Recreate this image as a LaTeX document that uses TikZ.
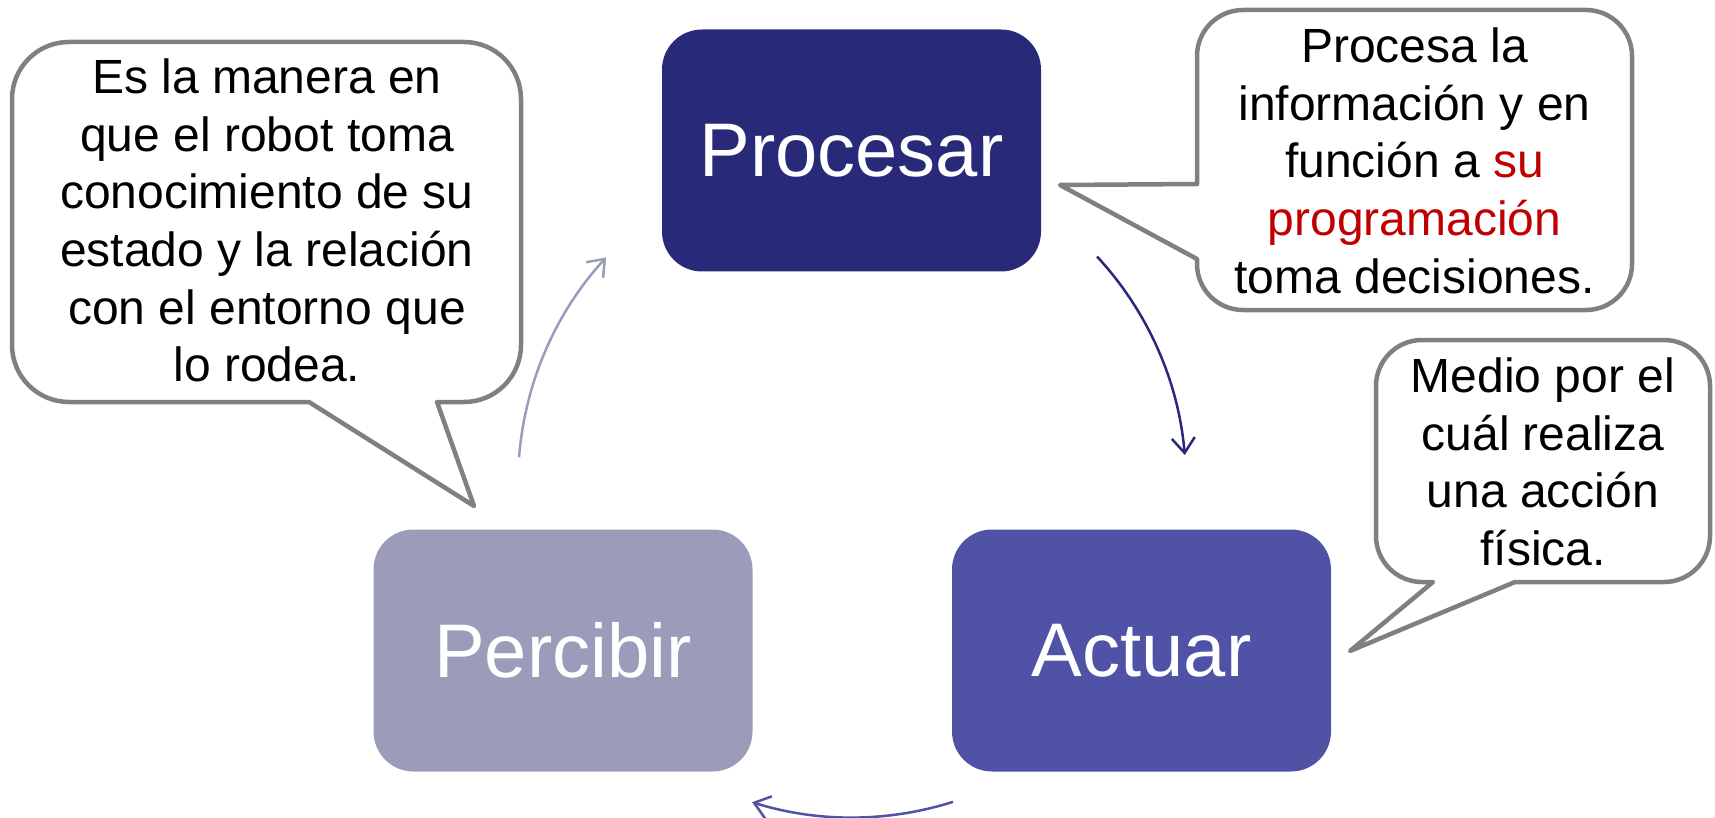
\documentclass[tikz,border=0pt]{standalone}
\usepackage{fontspec}
\setmainfont{Liberation Sans}
\usetikzlibrary{arrows.meta,calc}
\definecolor{procc}{HTML}{29297A}
\definecolor{actc}{HTML}{5052A6}
\definecolor{perc}{HTML}{9A9CBA}
\definecolor{bubline}{HTML}{808080}
\definecolor{hl}{HTML}{C00000}
\begin{document}
\begin{tikzpicture}[x=1pt,y=-1pt,
  stage/.style={rounded corners=40pt, minimum width=379pt, minimum height=242pt,
    inner sep=0pt, text=white, font=\fontsize{76}{90}\selectfont},
  bubble/.style={draw=bubline, line width=4.5pt, fill=white, line join=round},
  bubtext/.style={align=center, inner sep=0pt, anchor=north,
    font=\fontsize{48}{57.7}\selectfont},
  cyc/.style={line width=2.5pt, -{Straight Barb[length=15pt,width=23pt]}},
]
\useasboundingbox (0,0) rectangle (1715,818);

% the three stages of the cycle
\node[stage, fill=procc] (proc) at (851.5,150.5) {Procesar};
\node[stage, fill=actc]  (act)  at (1141.5,650.5) {Actuar};
\node[stage, fill=perc]  (perc) at (563,650.5) {Percibir};

% curved arrows on a common circle
\coordinate (cc) at (852,483.5);
\coordinate (a1) at ($(cc)+(-42.8:334)$);
\coordinate (a3) at ($(cc)+(72.4:334)$);
\coordinate (a5) at ($(cc)+(184.5:334)$);
\draw[cyc, draw=procc] (a1) arc[start angle=-42.8, end angle=-4.9, radius=334];
\draw[cyc, draw=actc]  (a3) arc[start angle=72.4, end angle=107.4, radius=334];
\draw[cyc, draw=perc]  (a5) arc[start angle=184.5, end angle=222.6, radius=334];

% speech bubbles
\draw[bubble] (69,42) -- (464,42) arc[start angle=-90,end angle=0,radius=57]
  -- (521,345) arc[start angle=0,end angle=90,radius=57]
  -- (437,402) -- (474,506) -- (309,402)
  -- (69,402) arc[start angle=90,end angle=180,radius=57]
  -- (12,99) arc[start angle=180,end angle=270,radius=57] -- cycle;

\draw[bubble] (1243,10) -- (1586,10) arc[start angle=-90,end angle=0,radius=46]
  -- (1632,264) arc[start angle=0,end angle=90,radius=46]
  -- (1243,310) arc[start angle=90,end angle=180,radius=46]
  -- (1197,259) -- (1060,185) -- (1197,184)
  -- (1197,56) arc[start angle=180,end angle=270,radius=46] -- cycle;

\draw[bubble] (1422,340) -- (1664,340) arc[start angle=-90,end angle=0,radius=46]
  -- (1710,536) arc[start angle=0,end angle=90,radius=46]
  -- (1515,582) -- (1350,651) -- (1433,582)
  -- (1422,582) arc[start angle=90,end angle=180,radius=46]
  -- (1376,386) arc[start angle=180,end angle=270,radius=46] -- cycle;

% bubble texts
\node[bubtext] (tperc) at (267,58.5) {Es la manera en\\que el robot toma\\conocimiento de su\\estado y la relación\\con el entorno que\\lo rodea.};
\node[bubtext] (tproc) at (1414.5,27.6) {Procesa la\\información y en\\función a \textcolor{hl}{su}\\\textcolor{hl}{programación}\\toma decisiones.};
\node[bubtext] (tact) at (1543,357.6) {Medio por el\\cuál realiza\\una acción\\física.};
\end{tikzpicture}
\end{document}
